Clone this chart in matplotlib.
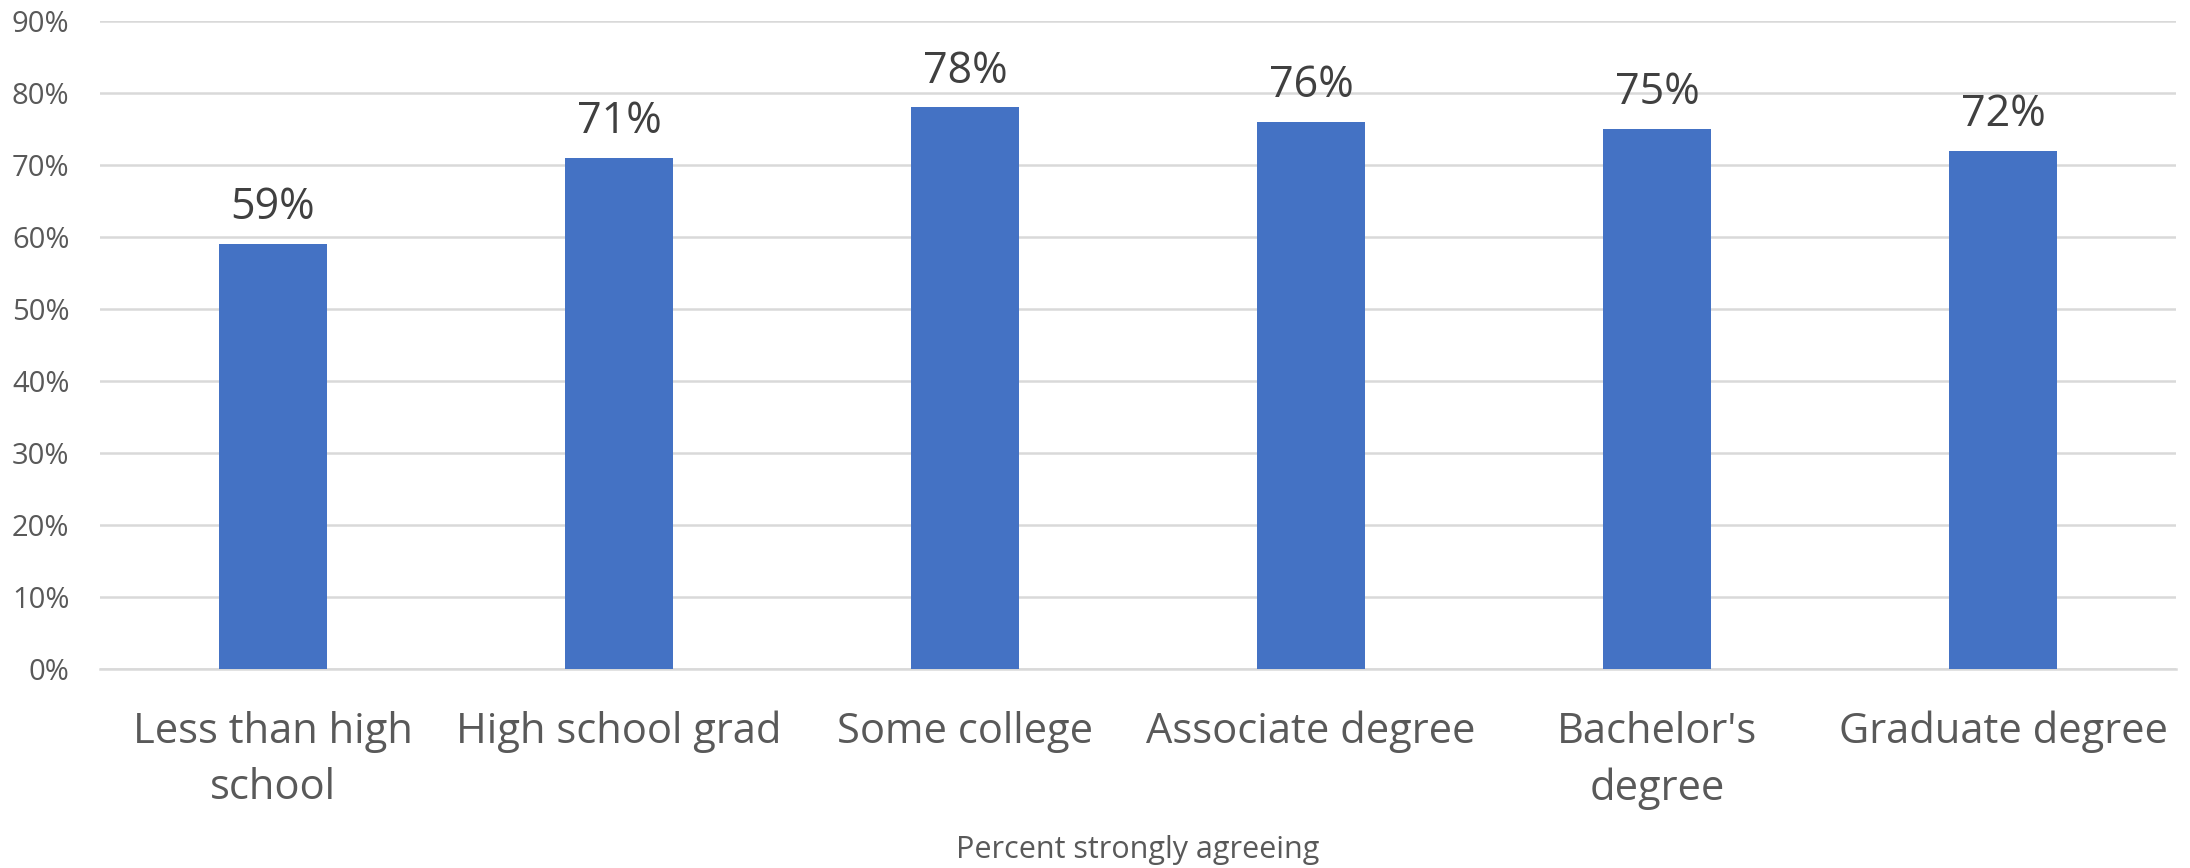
import numpy as np
import matplotlib
matplotlib.use("Agg")
import matplotlib.pyplot as plt

categories = ["Less than high\nschool", "High school grad", "Some college",
              "Associate degree", "Bachelor's\ndegree", "Graduate degree"]
values = [59, 71, 78, 76, 75, 72]
y_ticks = [0, 10, 20, 30, 40, 50, 60, 70, 80, 90]
x_title = "Percent strongly agreeing"

plt.rcParams['font.family'] = ['Open Sans', 'DejaVu Sans']

fig = plt.figure(figsize=(21.9, 8.68), dpi=100)
ax = fig.add_axes([100 / 2190, 1 - 669 / 868, 2076 / 2190, 648 / 868])

x = np.arange(len(categories))
bars = ax.bar(x, values, width=0.31, color="#4472C4", zorder=3)

for b, v in zip(bars, values):
    ax.annotate(f"{v}%", (b.get_x() + b.get_width() / 2, v),
                xytext=(0, 10), textcoords="offset points",
                ha="center", va="bottom", fontsize=31, color="#404040")

ax.set_xlim(-0.5, len(categories) - 0.5)
ax.set_ylim(0, 90)
ax.set_yticks(y_ticks)
ax.set_yticklabels([f"{t}%" for t in y_ticks])
ax.yaxis.grid(True, color="#D9D9D9", linewidth=1.8, zorder=0)
ax.set_axisbelow(True)

ax.set_xticks(x)
ax.set_xticklabels(categories, fontsize=30, color="#595959", linespacing=1.45)
ax.tick_params(axis="x", length=0, pad=30)
ax.tick_params(axis="y", length=0, pad=22, labelsize=21, labelcolor="#595959")

for s in ["top", "right", "left"]:
    ax.spines[s].set_visible(False)
ax.spines["bottom"].set_color("#D9D9D9")
ax.spines["bottom"].set_linewidth(1.8)

fig.text(1138 / 2190, 1 - 858 / 868, x_title, ha="center", va="baseline",
         fontsize=22, color="#595959")

fig.savefig("out.png", dpi=100, facecolor="white")
